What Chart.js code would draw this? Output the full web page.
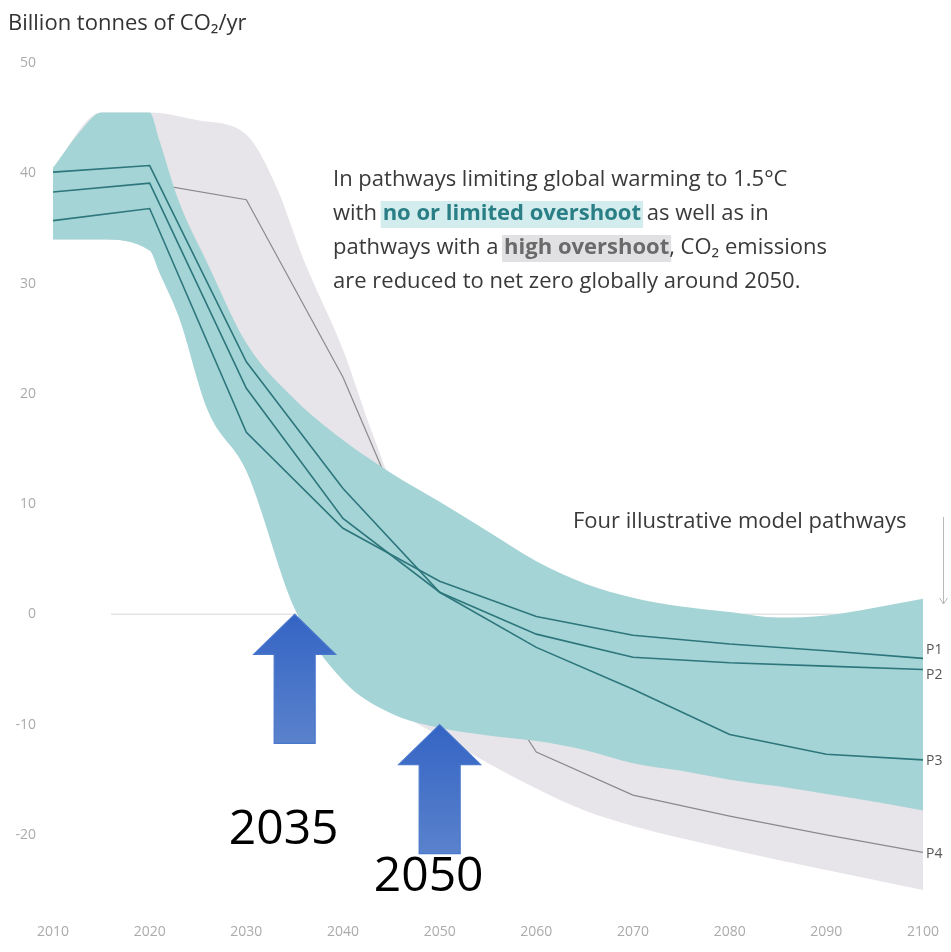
<!DOCTYPE html>
<html>
<head>
<meta charset="utf-8">
<script src="https://cdn.jsdelivr.net/npm/chart.js@4.4.1/dist/chart.umd.min.js"></script>
<style>
  html, body { margin: 0; padding: 0; background: #ffffff; }
  #wrap { width: 951px; height: 952px; position: relative; }
</style>
</head>
<body>
<div id="wrap"><canvas id="c" width="951" height="952"></canvas></div>
<script>
// Global net CO2 emissions, billion tonnes of CO2 per year
const years = [2010, 2020, 2030, 2040, 2050, 2060, 2070, 2080, 2090, 2100];
const p1 = [35.7, 36.8, 16.5, 7.8, 3.0, -0.2, -1.9, -2.7, -3.3, -4.0];
const p2 = [38.3, 39.1, 20.5, 8.7, 2.0, -1.8, -3.9, -4.4, -4.7, -5.0];
const p3 = [40.1, 40.7, 22.9, 11.4, 2.0, -3.0, -6.8, -10.9, -12.7, -13.2];
const p4 = [38.3, 39.1, 37.6, 21.5, 1.0, -12.5, -16.4, -18.3, -20.0, -21.6];

// Range of pathways with no or limited overshoot
const tealYears = [2010, 2013, 2015, 2020, 2021, 2023, 2026, 2030, 2035, 2040, 2045, 2050, 2055, 2060, 2065, 2070, 2075, 2080, 2085, 2090, 2095, 2100];
const tealUpper = [40.5, 44.0, 45.5, 45.5, 43.0, 37.5, 31.8, 24.6, 19.5, 15.8, 12.8, 10.2, 7.5, 4.8, 2.8, 1.5, 0.7, 0.2, -0.3, -0.1, 0.6, 1.4];
const tealLower = [34.0, 34.0, 34.0, 33.0, 31.0, 27.0, 18.5, 13.0, 0.5, -6.0, -9.0, -10.3, -11.0, -11.5, -12.3, -13.5, -14.2, -15.0, -15.6, -16.3, -17.0, -17.8];

// Range of pathways with a high overshoot
const greyYears = [2010, 2015, 2020, 2025, 2030, 2033, 2036, 2040, 2043, 2046, 2050, 2055, 2060, 2065, 2070, 2080, 2090, 2100];
const greyUpper = [40.5, 45.5, 45.5, 44.8, 43.5, 39.0, 32.0, 24.0, 16.5, 10.0, 6.0, 2.0, -1.0, -4.0, -6.0, -8.0, -10.0, -12.0];
const greyLower = [34.0, 34.0, 33.0, 24.0, 15.0, 8.0, 2.0, -3.0, -6.5, -9.0, -11.0, -13.5, -15.8, -17.8, -19.2, -21.3, -23.2, -25.0];

// Net-zero reference line
const zeroYears = [2016, 2100];
const zeroValues = [0, 0];

// Axis ticks
const xTicks = [2010, 2020, 2030, 2040, 2050, 2060, 2070, 2080, 2090, 2100];
const yTicks = [-20, -10, 0, 10, 20, 30, 40, 50];

// Pathway names and the two marked years
const pathwayNames = ['P1', 'P2', 'P3', 'P4'];
const markedYears = [2035, 2050];
const markedValues = [0, -10];

const pts = (xs, ys) => xs.map((x, i) => ({ x: x, y: ys[i] }));

const FONT = '"Open Sans", "Noto Sans", sans-serif';
const TEAL_LINE = '#2c767c';
const TEAL_FILL = '#a5d4d6';
const GREY_FILL = '#e7e5e9';

function lineSet(label, data, color, width, order) {
  return {
    label: label, data: data, borderColor: color, borderWidth: width,
    pointRadius: 0, fill: false, tension: 0, order: order
  };
}

const annotations = {
  id: 'annotations',
  afterDraw(chart) {
    const ctx = chart.ctx;
    const xs = chart.scales.x, ys = chart.scales.y;
    ctx.save();

    // axis title
    ctx.fillStyle = '#333333';
    ctx.font = '22px ' + FONT;
    ctx.textAlign = 'left';
    ctx.textBaseline = 'alphabetic';
    ctx.fillText('Billion tonnes of CO\u2082/yr', 8, 30);

    // explanatory note with highlighted phrases
    const note = [
      [['In pathways limiting global warming to 1.5\u00b0C', 'n']],
      [['with ', 'n'], ['no or limited overshoot', 't'], [' as well as in', 'n']],
      [['pathways with a ', 'n'], ['high overshoot', 'g'], [', CO\u2082 emissions', 'n']],
      [['are reduced to net zero globally around 2050.', 'n']]
    ];
    const noteX = 333, noteY = 186, noteLH = 34;
    note.forEach((runs, li) => {
      let x = noteX;
      const y = noteY + li * noteLH;
      runs.forEach(([txt, kind]) => {
        ctx.font = (kind === 'n' ? '' : 'bold ') + '22px ' + FONT;
        const w = ctx.measureText(txt).width;
        if (kind === 't') {
          ctx.fillStyle = 'rgba(175, 220, 222, 0.55)';
          ctx.fillRect(x - 2, y - 19, w + 4, 27);
        } else if (kind === 'g') {
          ctx.fillStyle = 'rgba(205, 205, 208, 0.6)';
          ctx.fillRect(x - 2, y - 19, w + 4, 27);
        }
        ctx.fillStyle = kind === 't' ? '#2a7f86' : (kind === 'g' ? '#6a6a6a' : '#3a3a3a');
        ctx.fillText(txt, x, y);
        x += w;
      });
    });

    // pathway heading with a pointer down to the labels
    ctx.font = '22px ' + FONT;
    ctx.fillStyle = '#3a3a3a';
    ctx.fillText('Four illustrative model pathways', 573, 528);
    ctx.strokeStyle = '#b8b8b8';
    ctx.lineWidth = 1;
    ctx.beginPath();
    ctx.moveTo(943.5, 517); ctx.lineTo(943.5, 604);
    ctx.moveTo(939.5, 598); ctx.lineTo(943.5, 604); ctx.lineTo(947.5, 598);
    ctx.stroke();

    // pathway labels at the end of each line
    const finals = [p1, p2, p3, p4].map(a => a[a.length - 1]);
    const nudges = [-8, 6, 1, 2];
    ctx.font = '14px ' + FONT;
    ctx.fillStyle = '#555555';
    ctx.textBaseline = 'middle';
    pathwayNames.forEach((n, i) => {
      ctx.fillText(n, chart.chartArea.right + 3, ys.getPixelForValue(finals[i]) + nudges[i]);
    });

    // blue arrows marking the years
    const labelDrop = [101, 37];
    markedYears.forEach((yr, i) => {
      const cx = xs.getPixelForValue(yr);
      const tip = ys.getPixelForValue(markedValues[i]);
      const headH = 40, headW = 41, shaftW = 20.5, len = 129;
      const g = ctx.createLinearGradient(0, tip, 0, tip + len);
      g.addColorStop(0, '#3464c4');
      g.addColorStop(1, '#5a82cc');
      ctx.beginPath();
      ctx.moveTo(cx, tip);
      ctx.lineTo(cx + headW, tip + headH);
      ctx.lineTo(cx + shaftW, tip + headH);
      ctx.lineTo(cx + shaftW, tip + len);
      ctx.lineTo(cx - shaftW, tip + len);
      ctx.lineTo(cx - shaftW, tip + headH);
      ctx.lineTo(cx - headW, tip + headH);
      ctx.closePath();
      ctx.fillStyle = g;
      ctx.fill();
      ctx.strokeStyle = '#4a78cc';
      ctx.lineWidth = 1.2;
      ctx.stroke();

      ctx.font = '48px ' + FONT;
      ctx.fillStyle = '#000000';
      ctx.textAlign = 'center';
      ctx.textBaseline = 'alphabetic';
      ctx.fillText(String(yr), cx - 11, tip + len + labelDrop[i]);
    });

    ctx.restore();
  }
};

new Chart(document.getElementById('c'), {
  type: 'line',
  data: {
    datasets: [
      lineSet('P1', pts(years, p1), TEAL_LINE, 1.6, 1),
      lineSet('P2', pts(years, p2), TEAL_LINE, 1.6, 1),
      lineSet('P3', pts(years, p3), TEAL_LINE, 1.6, 1),
      { label: 'no or limited overshoot', data: pts(tealYears, tealUpper), borderWidth: 0, pointRadius: 0,
        backgroundColor: TEAL_FILL, fill: '+1', cubicInterpolationMode: 'monotone', order: 3 },
      { label: 'no or limited overshoot low', data: pts(tealYears, tealLower), borderWidth: 0, pointRadius: 0,
        fill: false, cubicInterpolationMode: 'monotone', order: 3 },
      lineSet('P4', pts(years, p4), '#8a8a8a', 1.2, 3.5),
      { label: 'high overshoot', data: pts(greyYears, greyUpper), borderWidth: 0, pointRadius: 0,
        backgroundColor: GREY_FILL, fill: '+1', cubicInterpolationMode: 'monotone', order: 4 },
      { label: 'high overshoot low', data: pts(greyYears, greyLower), borderWidth: 0, pointRadius: 0,
        fill: false, cubicInterpolationMode: 'monotone', order: 4 },
      lineSet('net zero', pts(zeroYears, zeroValues), '#e4e4e4', 1.5, 5)
    ]
  },
  options: {
    responsive: false,
    animation: false,
    devicePixelRatio: 1,
    layout: { padding: { top: 63, right: 25, bottom: 10, left: 0 } },
    plugins: { legend: { display: false }, tooltip: { enabled: false } },
    scales: {
      x: {
        type: 'linear', min: 2010, max: 2100,
        afterBuildTicks: s => { s.ticks = xTicks.map(v => ({ value: v })); },
        afterFit: s => { s.height = 30; },
        ticks: { color: '#ababab', font: { family: FONT, size: 14 }, padding: 12,
                 maxRotation: 0, autoSkip: false, callback: v => String(v) },
        grid: { display: false, drawTicks: false },
        border: { display: false }
      },
      y: {
        min: -27, max: 50,
        afterBuildTicks: s => { s.ticks = yTicks.map(v => ({ value: v })); },
        afterFit: s => { s.width = 53; },
        ticks: { color: '#ababab', font: { family: FONT, size: 14 }, padding: 17, autoSkip: false },
        grid: { display: false, drawTicks: false },
        border: { display: false }
      }
    }
  },
  plugins: [annotations]
});
</script>
</body>
</html>
